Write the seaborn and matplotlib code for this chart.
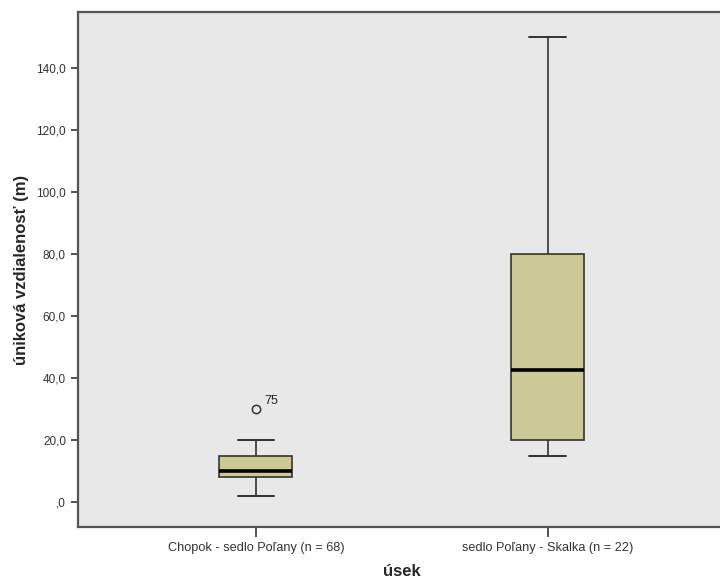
import pandas as pd
import numpy as np
import seaborn as sns
import matplotlib.pyplot as plt
from matplotlib.ticker import FuncFormatter

# values (quartiles, whiskers and the outlier)
useky = ['Chopok - sedlo Poľany (n = 68)', 'sedlo Poľany - Skalka (n = 22)']
vzdialenost_1 = [2, 8, 8, 10, 10, 15, 15, 20, 30]
vzdialenost_2 = [15, 20, 42.5, 80, 150]
outlier_label = '75'
y_ticks = [0, 20, 40, 60, 80, 100, 120, 140]

df = pd.DataFrame({
    'úsek': [useky[0]] * len(vzdialenost_1) + [useky[1]] * len(vzdialenost_2),
    'vzdialenost': vzdialenost_1 + vzdialenost_2,
})

sns.set_style('ticks')
plt.rcParams['font.family'] = ['Liberation Sans', 'DejaVu Sans']

fig = plt.figure(figsize=(7.2, 5.8), dpi=100)
ax = fig.add_axes([0.108, 0.091, 0.9, 0.888])
ax.set_facecolor('#E8E8E8')

sns.boxplot(data=df, x='úsek', y='vzdialenost', order=useky, ax=ax,
            width=0.25, color='#CBCA96', saturation=1, whis=1.5,
            linecolor='#333333', linewidth=1.2,
            medianprops=dict(color='black', linewidth=2.6),
            capprops=dict(color='#333333', linewidth=1.4),
            flierprops=dict(marker='o', markerfacecolor='none',
                            markeredgecolor='#333333', markersize=6,
                            markeredgewidth=1.1))

# outlier id label
ax.annotate(outlier_label, xy=(0, max(vzdialenost_1)), xytext=(6, 4),
            textcoords='offset points', fontsize=9, color='#222222')

ax.set_xlim(-0.61, 1.61)
ax.set_ylim(-8.1, 158)
ax.set_yticks(y_ticks)
ax.yaxis.set_major_formatter(FuncFormatter(
    lambda v, p: ',0' if v == 0 else f'{v:.1f}'.replace('.', ',')))

ax.set_xlabel('úsek', fontsize=12, fontweight='bold', labelpad=7)
ax.set_ylabel('úniková vzdialenosť (m)', fontsize=12, fontweight='bold', labelpad=5)
ax.tick_params(axis='both', labelsize=8.5, colors='#333333', length=5, width=1.2)
ax.tick_params(axis='x', length=7, labelsize=9.2)
for s in ax.spines.values():
    s.set_color('#555555')
    s.set_linewidth(1.6)

fig.savefig('out.png', dpi=100)
